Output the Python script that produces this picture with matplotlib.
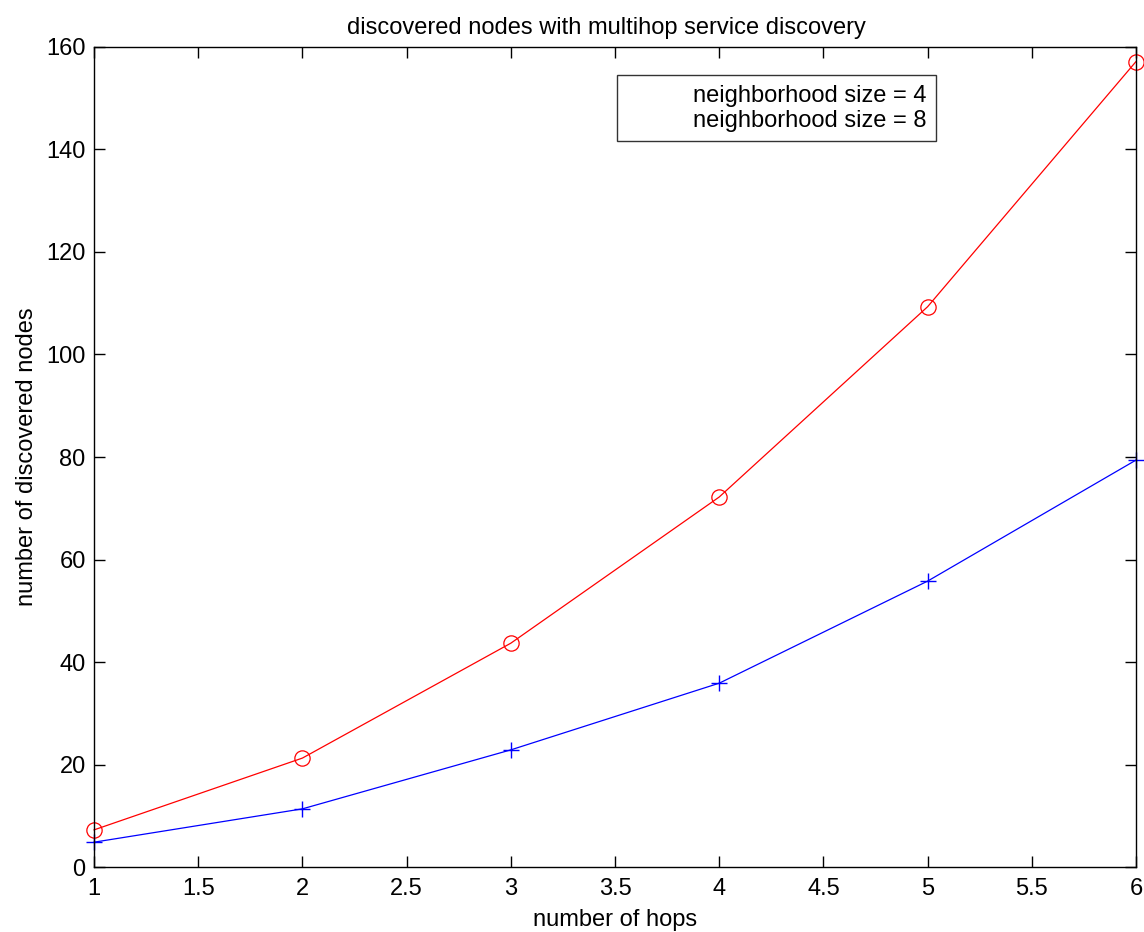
import matplotlib.pyplot as plt

plt.rcParams['font.family'] = ['Liberation Sans', 'DejaVu Sans']

# values
hops = [1, 2, 3, 4, 5, 6]
nodes_size4 = [4.9, 11.4, 22.9, 35.9, 55.8, 79.4]
nodes_size8 = [7.3, 21.3, 43.7, 72.2, 109.3, 157.1]
labels = ['neighborhood size = 4', 'neighborhood size = 8']

fig = plt.figure(figsize=(11.44, 9.32), dpi=100)
ax = fig.add_axes([0.0822, 0.0694, 0.9108, 0.8805])

ax.plot(hops, nodes_size4, color='b', marker='+', markersize=11,
        markeredgewidth=1.0, linewidth=0.9, label=labels[0], clip_on=False)
ax.plot(hops, nodes_size8, color='r', marker='o', markersize=11,
        markerfacecolor='none', markeredgewidth=0.9, linewidth=0.9,
        label=labels[1], clip_on=False)

ax.set_xlim(1, 6)
ax.set_ylim(0, 160)
ax.set_xticks([1, 1.5, 2, 2.5, 3, 3.5, 4, 4.5, 5, 5.5, 6])
ax.set_xticklabels(['1', '1.5', '2', '2.5', '3', '3.5', '4', '4.5', '5', '5.5', '6'])
ax.set_yticks(range(0, 161, 20))
ax.tick_params(direction='in', length=8, width=1, top=True, right=True,
               labelsize=17)
ax.tick_params(axis='x', pad=8)
ax.tick_params(axis='y', pad=6)
for s in ax.spines.values():
    s.set_linewidth(1)

ax.set_xlabel('number of hops', fontsize=17, labelpad=6)
ax.set_ylabel('number of discovered nodes', fontsize=17, labelpad=6)
ax.set_title('discovered nodes with multihop service discovery', fontsize=17,
             pad=9, x=0.492)

# legend box shows only the texts, right aligned
leg = ax.legend(loc='upper left', bbox_to_anchor=(0.502, 0.965), fontsize=17,
                frameon=True, fancybox=False, edgecolor='black',
                handlelength=2.4, handletextpad=0.4, borderpad=0.4,
                labelspacing=0.12, borderaxespad=0, alignment='right')
leg.get_frame().set_linewidth(1)
for h in leg.legend_handles:
    h.set_visible(False)

fig.savefig('out.png', dpi=100)
